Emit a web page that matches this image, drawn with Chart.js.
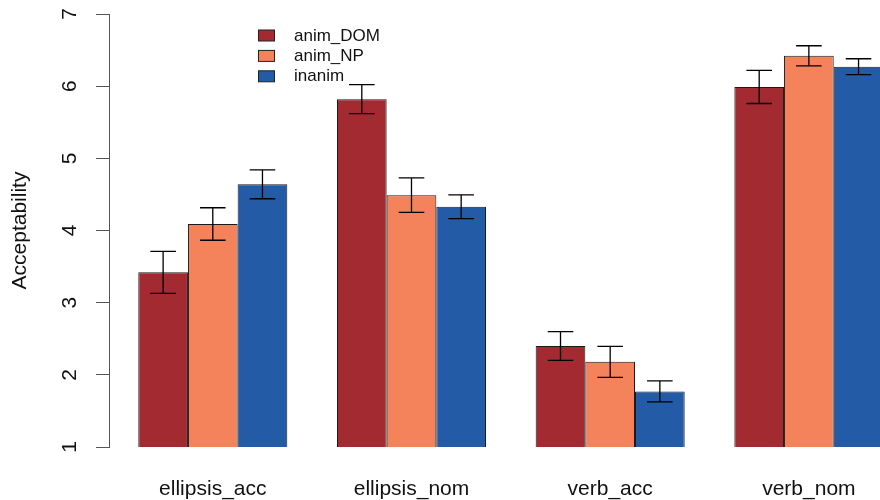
<!DOCTYPE html>
<html>
<head>
<meta charset="utf-8">
<script src="https://cdn.jsdelivr.net/npm/chart.js@4"></script>
<style>
  html, body { margin: 0; padding: 0; background: #fff; overflow: hidden; }
  #wrap { width: 880px; height: 500px; }
</style>
</head>
<body>
<div id="wrap"><canvas id="c" width="880" height="500"></canvas></div>
<script>
// ---- data ----
const categories = ["ellipsis_acc", "ellipsis_nom", "verb_acc", "verb_nom"];
const seriesNames = ["anim_DOM", "anim_NP", "inanim"];
const animDOM = [3.42, 5.82, 2.40, 5.99];
const animNP  = [4.09, 4.49, 2.18, 6.42];
const inanim  = [4.64, 4.33, 1.77, 6.27];
const animDOMErr = [0.29, 0.20, 0.20, 0.23];
const animNPErr  = [0.225, 0.24, 0.215, 0.14];
const inanimErr  = [0.20, 0.165, 0.145, 0.11];
const yTicks = [1, 2, 3, 4, 5, 6, 7];
const yTitle = "Acceptability";

const colors = ["#A32A31", "#F4825B", "#245BA7"];
const FONT = "'Liberation Sans', Arial, Helvetica, sans-serif";

const seriesValues = [animDOM, animNP, inanim];
const seriesErrs = [animDOMErr, animNPErr, inanimErr];

const datasets = seriesValues.map((vals, s) => ({
  label: seriesNames[s],
  data: vals.map((v, i) => ({ x: i, y: v })),
  errs: seriesErrs[s],
  backgroundColor: colors[s],
  borderColor: "#1a1a1a",
  borderWidth: 1,
  borderSkipped: false,
  categoryPercentage: 0.75,
  barPercentage: 1.0
}));

const overlay = {
  id: "overlay",
  afterDatasetsDraw(chart) {
    const ctx = chart.ctx;
    const ys = chart.scales.y;
    const area = chart.chartArea;
    ctx.save();
    ctx.beginPath();
    ctx.rect(area.left, 0, area.right - area.left, chart.height);
    ctx.clip();
    ctx.strokeStyle = "#000";
    ctx.lineWidth = 1.3;
    chart.data.datasets.forEach((ds, s) => {
      const meta = chart.getDatasetMeta(s);
      meta.data.forEach((el, i) => {
        const v = ds.data[i].y, e = ds.errs[i];
        const yHi = ys.getPixelForValue(v + e);
        const yLo = ys.getPixelForValue(v - e);
        const x = el.x, hw = 12.8;
        ctx.beginPath();
        ctx.moveTo(x, yHi); ctx.lineTo(x, yLo);
        ctx.moveTo(x - hw, yHi); ctx.lineTo(x + hw, yHi);
        ctx.moveTo(x - hw, yLo); ctx.lineTo(x + hw, yLo);
        ctx.stroke();
      });
    });
    ctx.restore();
  },
  afterDraw(chart) {
    const ctx = chart.ctx;
    const ys = chart.scales.y;
    ctx.save();
    // y tick labels (rotated, R style)
    ctx.fillStyle = "#111";
    ctx.font = "21px " + FONT;
    ctx.textAlign = "center";
    ctx.textBaseline = "middle";
    yTicks.forEach(t => {
      const y = ys.getPixelForValue(t);
      ctx.save();
      ctx.translate(70, y);
      ctx.rotate(-Math.PI / 2);
      ctx.fillText(String(t), 0, 0);
      ctx.restore();
    });
    // y title
    ctx.save();
    ctx.translate(20, (chart.chartArea.top + chart.chartArea.bottom) / 2);
    ctx.rotate(-Math.PI / 2);
    ctx.fillText(yTitle, 0, 0);
    ctx.restore();
    // legend
    ctx.font = "17px " + FONT;
    ctx.textAlign = "left";
    chart.data.datasets.forEach((ds, s) => {
      const cy = 35.5 + s * 20.4;
      ctx.fillStyle = ds.backgroundColor;
      ctx.fillRect(258.5, cy - 5.5, 16, 11);
      ctx.strokeStyle = "#222";
      ctx.lineWidth = 1;
      ctx.strokeRect(258.5, cy - 5.5, 16, 11);
      ctx.fillStyle = "#111";
      ctx.fillText(ds.label, 294, cy + 0.5);
    });
    ctx.restore();
  }
};

new Chart(document.getElementById("c"), {
  type: "bar",
  data: { datasets },
  options: {
    responsive: false,
    animation: false,
    events: [],
    layout: { padding: { top: 14, right: 0, bottom: 0, left: 0 } },
    plugins: { legend: { display: false }, tooltip: { enabled: false } },
    scales: {
      x: {
        type: "linear",
        bounds: "data",
        offset: false,
        min: -0.5224,
        max: 3.358,
        grid: { display: false, drawTicks: false, offset: false },
        border: { display: false },
        afterBuildTicks: (scale) => { scale.ticks = categories.map((c, i) => ({ value: i })); },
        ticks: {
          autoSkip: false,
          maxRotation: 0,
          minRotation: 0,
          padding: 30,
          color: "#111",
          font: { family: FONT, size: 21 },
          callback: (v) => categories[Math.round(v)] ?? ""
        },
        afterFit: (scale) => { scale.height = 53; scale.paddingLeft = 0; scale.paddingRight = 0; }
      },
      y: {
        min: 1,
        max: 7,
        grid: { display: true, drawOnChartArea: false, drawTicks: true, tickLength: 13, color: "#555", lineWidth: 1 },
        border: { display: true, color: "#555", width: 1 },
        ticks: { display: false, stepSize: 1 },
        afterFit: (scale) => { scale.width = 109; }
      }
    }
  },
  plugins: [overlay]
});
</script>
</body>
</html>
